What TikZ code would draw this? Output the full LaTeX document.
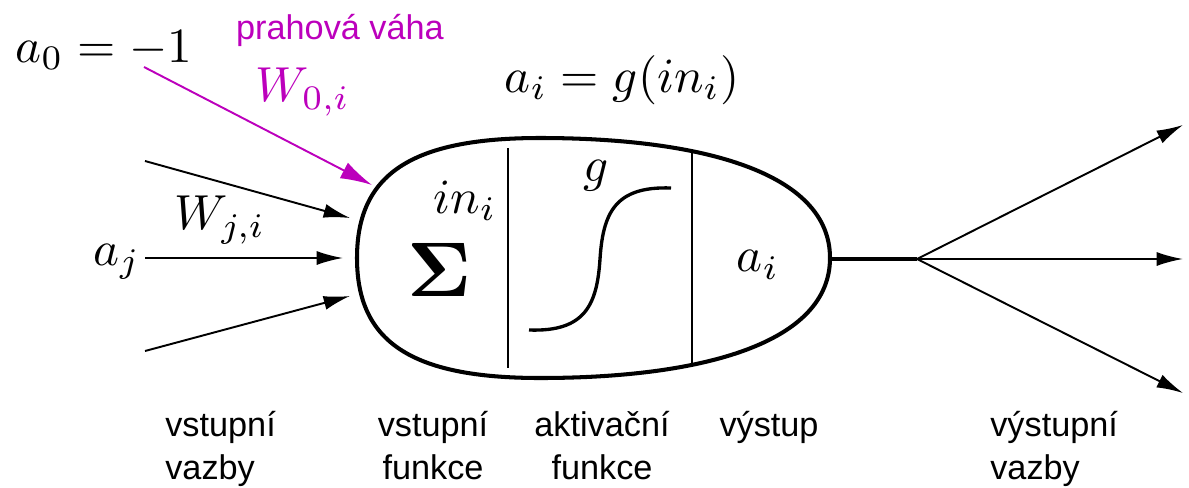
\documentclass[tikz,border=0pt]{standalone}
\usepackage{fontspec}
\usepackage{amsmath}
\usepackage{tikz}
\usetikzlibrary{arrows.meta}
\newfontfamily\popisfont{Liberation Sans}
\definecolor{prahcol}{RGB}{188,0,188}

\begin{document}
\begin{tikzpicture}[x=0.02cm, y=-0.02cm,
		matika/.style={inner sep=0pt, scale=2.8},
		popis/.style={inner sep=0pt, font=\popisfont\fontsize{19.5}{24.5}\selectfont},
		spoj/.style={line width=1.1pt, -{Latex[length=15pt,width=8pt]}}]
			\useasboundingbox (0,0) rectangle (1189,487);
			
			% 神经元
			\draw[line width=2.3pt] (357,258) .. controls (357,175) and (410,138) .. (540,138)
				.. controls (700,138) and (830,172) .. (830,258)
				.. controls (830,344) and (700,378) .. (540,378)
				.. controls (410,378) and (357,341) .. (357,258);
			\draw[line width=0.9pt] (508,148) -- (508,368);
			\draw[line width=0.9pt] (692,152) -- (692,365);
			
			% 激活函数
			\draw[line width=1.9pt] (529,330) .. controls (585,332) and (597,305) .. (600,259)
				.. controls (603,213) and (615,186) .. (671,188);
			
			% 文字
			\node[inner sep=0pt, scale=4.4, font=\boldmath] (sigma) at (440,270) {$\Sigma$};
			\node[matika] (ini) at (465,201) {$in_i$};
			\node[matika] (g) at (596,176) {$g$};
			\node[matika] (ai) at (758,265) {$a_i$};
			\node[matika] (rovnice) at (622,80) {$a_i = g(in_i)$};
			\node[matika] (a0) at (104,50) {$a_0 = -1$};
			\node[matika, text=prahcol] (w0) at (303,92) {$W_{0,i}$};
			\node[popis, text=prahcol] (prah) at (340,30) {prahová váha};
			\node[matika] (aj) at (117,262) {$a_j$};
			\node[matika] (wji) at (220,220) {$W_{j,i}$};
			
			% 输入
			\coordinate (a0end) at (144,67);
			\coordinate (prahtip) at (372,185);
			\draw[line width=1.1pt, prahcol, -{Latex[length=18pt,width=10pt]}] (a0end) -- (prahtip);
			\coordinate (in1) at (145,161);
			\coordinate (in2) at (145,258);
			\coordinate (in3) at (145,351);
			\coordinate (tip1) at (350,218);
			\coordinate (tip2) at (343,258);
			\coordinate (tip3) at (350,296);
			\draw[spoj] (in1) -- (tip1);
			\draw[spoj] (in2) -- (tip2);
			\draw[spoj] (in3) -- (tip3);
			
			% 输出
			\coordinate (vyst) at (830,259);
			\coordinate (rozv) at (917,259);
			\draw[line width=2.3pt] (vyst) -- (rozv);
			\foreach \kam/\y in {o1/125, o2/259, o3/393} {
				\coordinate (\kam) at (1183,\y);
				\draw[spoj] (rozv) -- (\kam);
			}
			
			% 说明
			\node[popis, anchor=north west, align=left] (vvazby) at (165,411) {vstupní\\vazby};
			\node[popis, anchor=north, align=center] (vfunkce) at (433,411) {vstupní\\funkce};
			\node[popis, anchor=north, align=center] (afunkce) at (602,411) {aktivační\\funkce};
			\node[popis, anchor=north] (vystup) at (769,411) {výstup};
			\node[popis, anchor=north west, align=left] (vyvazby) at (990,411) {výstupní\\vazby};
		\end{tikzpicture}
\end{document}
